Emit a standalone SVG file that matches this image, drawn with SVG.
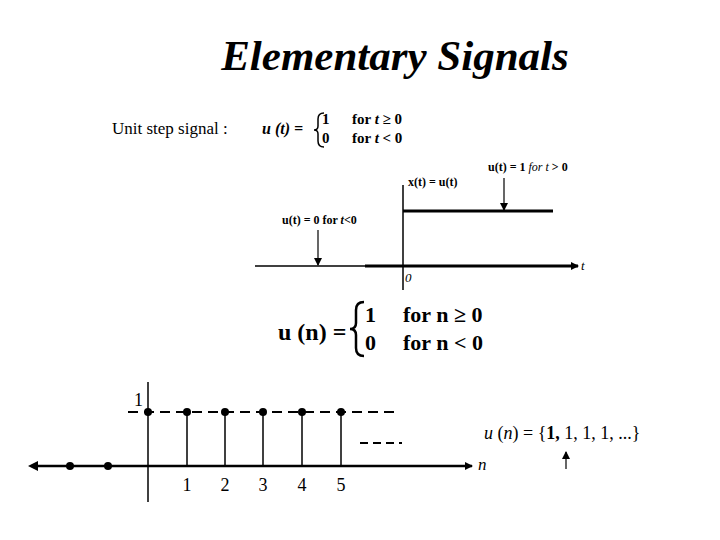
<svg xmlns="http://www.w3.org/2000/svg" width="720" height="540" viewBox="0 0 720 540">
<defs>
<style>
.s{font-family:"Liberation Serif",serif;fill:#000}
.b{font-weight:bold}
.ln{stroke:#000;fill:none}
</style>
<marker id="ah" markerWidth="8" markerHeight="8" refX="7" refY="4" orient="auto" markerUnits="userSpaceOnUse"><path d="M0,0L8,4L0,8z" fill="#000"/></marker>
</defs>
<rect width="720" height="540" fill="#fff"/>
<text class="s b" x="395" y="70" font-size="43" font-style="italic" text-anchor="middle">Elementary Signals</text>
<g id="stepdef">
<text class="s" x="112" y="134" font-size="17">Unit step signal :</text>
<text class="s b" x="262" y="134" font-size="16" font-style="italic">u (t) =</text>
<path class="ln" stroke-width="1.5" d="M324,113Q318,113 318,119L318,126Q318,130 314,130Q318,130 318,134L318,141Q318,147 324,147"/>
<text class="s b" x="322" y="124" font-size="15">1</text>
<text class="s b" x="352" y="124" font-size="15">for <tspan font-style="italic">t</tspan> ≥ 0</text>
<text class="s b" x="322" y="143" font-size="15">0</text>
<text class="s b" x="352" y="143" font-size="15">for <tspan font-style="italic">t</tspan> &lt; 0</text>
</g>
<g id="cgraph">
<line class="ln" x1="403" y1="185" x2="403" y2="290" stroke-width="1.5"/>
<line class="ln" x1="403" y1="211" x2="553" y2="211" stroke-width="3"/>
<line class="ln" x1="255" y1="266" x2="365" y2="266" stroke-width="1.5"/>
<line class="ln" x1="365" y1="266" x2="578" y2="266" stroke-width="3" marker-end="url(#ah)"/>
<text class="s" x="581" y="270" font-size="13" font-style="italic">t</text>
<text class="s" x="405" y="282" font-size="13" font-style="italic">0</text>
<text class="s b" x="408" y="186" font-size="12">x(t) = u(t)</text>
<text class="s b" x="488" y="171" font-size="12">u(t) = 1 <tspan font-style="italic" font-weight="normal">for t</tspan> &gt; 0</text>
<text class="s b" x="282" y="224" font-size="12">u(t) = 0 for <tspan font-style="italic">t</tspan>&lt;0</text>
<line class="ln" x1="504" y1="178" x2="504" y2="210" stroke-width="1.2" marker-end="url(#ah)"/>
<line class="ln" x1="318" y1="230" x2="318" y2="265" stroke-width="1.2" marker-end="url(#ah)"/>
</g>
<g id="ndef">
<text class="s b" x="278" y="340" font-size="24" font-family="Liberation Sans">u (n) =</text>
<path class="ln" stroke-width="2.5" d="M364,302Q356,302 356,310L356,323Q356,329 350,329Q356,329 356,335L356,348Q356,356 364,356"/>
<text class="s b" x="365" y="322" font-size="22" font-family="Liberation Sans">1</text>
<text class="s b" x="403" y="322" font-size="22" font-family="Liberation Sans">for n ≥ 0</text>
<text class="s b" x="365" y="350" font-size="22" font-family="Liberation Sans">0</text>
<text class="s b" x="403" y="350" font-size="22" font-family="Liberation Sans">for n &lt; 0</text>
</g>
<g id="dgraph">
<line class="ln" x1="36" y1="466" x2="472" y2="466" stroke-width="2.5" marker-end="url(#ah)"/>
<path d="M28,466L38,461L38,471z"/>
<text class="s" x="478" y="470" font-size="17" font-style="italic">n</text>
<line class="ln" x1="148" y1="382" x2="148" y2="502" stroke-width="1.5"/>
<line class="ln" x1="128" y1="412" x2="400" y2="412" stroke-width="2" stroke-dasharray="10,6"/>
<line class="ln" x1="360" y1="443" x2="402" y2="443" stroke-width="2" stroke-dasharray="8,5"/>
<g stroke="#000" stroke-width="1.5">
<line x1="187" y1="412" x2="187" y2="466"/><line x1="225" y1="412" x2="225" y2="466"/>
<line x1="263" y1="412" x2="263" y2="466"/><line x1="302" y1="412" x2="302" y2="466"/>
<line x1="341" y1="412" x2="341" y2="466"/>
</g>
<g fill="#000">
<circle cx="148" cy="412" r="4"/><circle cx="187" cy="412" r="4"/><circle cx="225" cy="412" r="4"/>
<circle cx="263" cy="412" r="4"/><circle cx="302" cy="412" r="4"/><circle cx="341" cy="412" r="4"/>
<circle cx="70" cy="466" r="4"/><circle cx="108" cy="466" r="4"/>
</g>
<text class="s" x="134" y="406" font-size="18">1</text>
<g class="s" font-size="18" text-anchor="middle">
<text x="187" y="491">1</text><text x="225" y="491">2</text><text x="263" y="491">3</text><text x="302" y="491">4</text><text x="341" y="491">5</text>
</g>
</g>
<g id="nseq">
<text class="s" x="484" y="439" font-size="18"><tspan font-style="italic">u</tspan> (<tspan font-style="italic">n</tspan>) = {<tspan font-weight="bold">1,</tspan> 1, 1, 1, ...}</text>
<line class="ln" x1="566" y1="469" x2="566" y2="452" stroke-width="1.2" marker-end="url(#ah)"/>
</g>
</svg>
